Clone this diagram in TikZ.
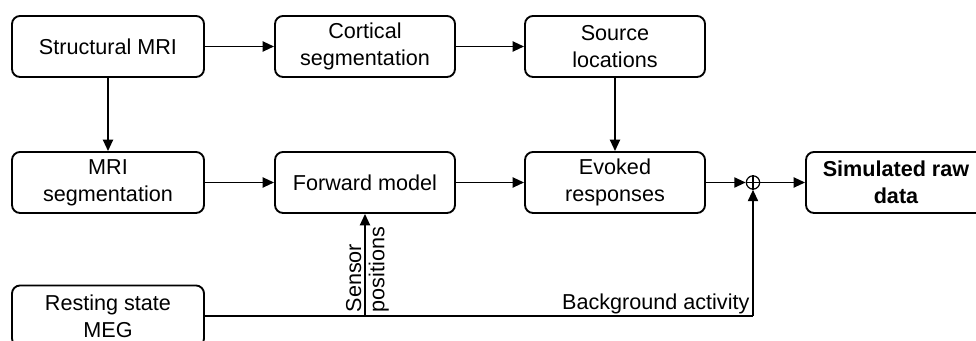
\documentclass[tikz,border=0pt]{standalone}
\usepackage{fontspec}
\setmainfont{Liberation Sans}
\usetikzlibrary{arrows.meta}
\begin{document}
\begin{tikzpicture}[x=0.75pt,y=-0.75pt,
  box/.style={draw, line width=1.4pt, rounded corners=6pt, align=center,
    minimum height=45.75pt, inner sep=0pt,
    font=\fontsize{16.2}{20.25}\selectfont},
  wbox/.style={box, minimum width=144pt},
  nbox/.style={box, minimum width=135pt},
  conn/.style={line width=1.4pt, -{Triangle[length=8.5pt,width=7.5pt]}},
  plain/.style={line width=1.4pt},
  lbl/.style={font=\fontsize{16.2}{20.25}\selectfont, inner sep=1pt},
  sumnode/.style={draw, circle, line width=0.9pt, minimum size=10pt, inner sep=0pt}
]
\useasboundingbox (0,0) rectangle (976,341);
\clip (0,0) rectangle (976,341);
\node[wbox] (smri) at (108,46.5) {Structural MRI};
\node[nbox] (cort) at (365,46.5) {Cortical\\segmentation};
\node[nbox] (src) at (615,46.5) {Source\\locations};
\node[wbox] (mseg) at (108,182.5) {MRI\\segmentation};
\node[nbox] (fwd) at (365,182.5) {Forward model};
\node[nbox] (evk) at (615,182.5) {Evoked\\responses};
\node[nbox, font=\fontsize{16.2}{20.25}\selectfont\bfseries] (sim) at (896,182.5) {Simulated raw\\data};
\node[wbox] (rest) at (108,316) {Resting state\\MEG};
\node[sumnode] (sum) at (753,182.5) {};
\draw[line width=0.9pt] (sum.north) -- (sum.south) (sum.west) -- (sum.east);
\coordinate (sensor) at (fwd.south |- rest.east);
\coordinate (bend) at (sum.south |- rest.east);
\draw[conn] (smri) -- (cort);
\draw[conn] (cort) -- (src);
\draw[conn] (smri) -- (mseg);
\draw[conn] (src) -- (evk);
\draw[conn] (mseg) -- (fwd);
\draw[conn] (fwd) -- (evk);
\draw[conn] (evk) -- (sum);
\draw[conn] (sum) -- (sim);
\draw[plain] (rest.east) -- (bend);
\draw[conn] (bend) -- (sum.south);
\draw[conn] (sensor) -- (fwd.south);
\node[lbl, rotate=90, anchor=south west] (sensl) at ([xshift=-1.5pt,yshift=1.5pt]sensor) {Sensor};
\node[lbl, rotate=90, anchor=north west] (posl) at ([xshift=1.5pt,yshift=1.5pt]sensor) {positions};
\node[lbl, anchor=south east] (bgl) at ([xshift=-1.5pt,yshift=0.5pt]bend) {Background activity};
\end{tikzpicture}
\end{document}
